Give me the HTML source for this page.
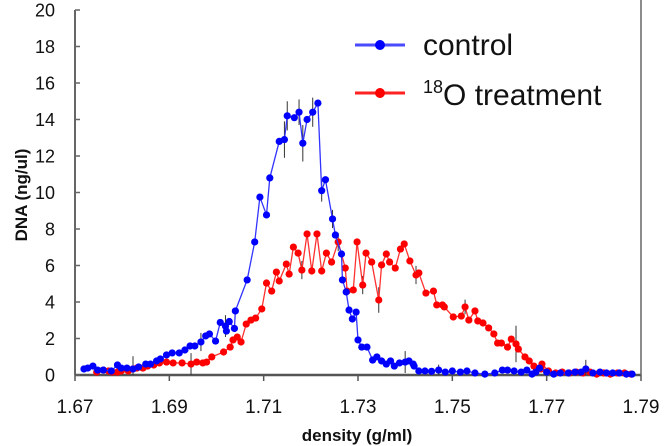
<!DOCTYPE html>
<html><head><meta charset="utf-8"><style>
body{margin:0;background:#fff;}
svg{display:block;font-family:"Liberation Sans",Arial,sans-serif;}
</style></head><body>
<svg id="chart" width="665" height="446" viewBox="0 0 665 446" xmlns="http://www.w3.org/2000/svg">
<g id="axes"></g>
<g id="series"></g>
<g>
 <g>
  <line x1="355" y1="45" x2="405" y2="45" stroke="#4a4aff" stroke-width="3"/>
  <circle cx="380" cy="45" r="5" fill="#0000ff"/>
  <text x="423" y="55" font-size="30" fill="#111">control</text>
 </g>
 <g>
  <line x1="355" y1="93" x2="405" y2="93" stroke="#ff2222" stroke-width="3"/>
  <circle cx="380" cy="93" r="5" fill="#ff0000"/>
  <text x="423" y="105" font-size="30" fill="#111"><tspan font-size="18" dy="-12">18</tspan><tspan dy="12">O treatment</tspan></text>
 </g>
</g>
<text x="357" y="441" font-size="17" font-weight="bold" text-anchor="middle" fill="#111">density (g/ml)</text>
<text transform="translate(27,195) rotate(-90)" font-size="17" font-weight="bold" text-anchor="middle" fill="#111">DNA (ng/ul)</text>
</svg>
<script>
const xTicks = [1.67,1.69,1.71,1.73,1.75,1.77,1.79];
const xTickLabels = ["1.67","1.69","1.71","1.73","1.75","1.77","1.79"];
const yTicks = [0,2,4,6,8,10,12,14,16,18,20];
const controlX = [1.6719,1.6727,1.6738,1.6748,1.6760,1.6777,1.6790,1.6798,1.6810,1.6823,1.6835,1.6850,1.6860,1.6873,1.6881,1.6894,1.6906,1.6921,1.6933,1.6944,1.6954,1.6967,1.6977,1.6985,1.6998,1.7008,1.7019,1.7021,1.7027,1.7038,1.7040,1.7065,1.7081,1.7092,1.7106,1.7113,1.7133,1.7144,1.7150,1.7165,1.7175,1.7183,1.7192,1.7204,1.7215,1.7223,1.7231,1.7246,1.7252,1.7265,1.7267,1.7275,1.7281,1.7288,1.7296,1.7300,1.7308,1.7319,1.7331,1.7340,1.7350,1.7360,1.7369,1.7377,1.7388,1.7400,1.7408,1.7417,1.7419,1.7429,1.7442,1.7456,1.7471,1.7485,1.7500,1.7517,1.7531,1.7548,1.7569,1.7590,1.7606,1.7617,1.7631,1.7646,1.7658,1.7669,1.7677,1.7685,1.7700,1.7715,1.7729,1.7746,1.7760,1.7773,1.7783,1.7798,1.7813,1.7827,1.7840,1.7854,1.7869,1.7881];
const controlY = [0.33,0.38,0.49,0.27,0.27,0.22,0.55,0.38,0.38,0.33,0.44,0.60,0.60,0.77,0.88,1.10,1.21,1.21,1.37,1.59,1.59,1.81,2.14,2.25,1.86,2.88,2.68,2.41,2.93,2.55,3.51,5.21,7.29,9.75,8.77,10.8,12.8,12.9,14.2,14.1,14.4,12.7,14.0,14.4,14.9,10.1,10.7,8.55,7.67,6.63,5.21,4.55,3.56,3.07,3.45,1.92,1.53,1.53,0.82,0.99,0.77,0.60,0.77,0.49,0.66,0.71,0.77,0.60,0.49,0.22,0.22,0.20,0.27,0.16,0.22,0.16,0.22,0.11,0.05,0.11,0.27,0.27,0.22,0.16,0.27,0.05,0.16,0.38,0.16,0.05,0.11,0.11,0.16,0.16,0.33,0.11,0.16,0.11,0.11,0.11,0.05,0.05];
const treatX = [1.6746,1.6760,1.6771,1.6779,1.6790,1.6798,1.6813,1.6823,1.6831,1.6844,1.6854,1.6867,1.6879,1.6894,1.6908,1.6927,1.6946,1.6958,1.6971,1.6979,1.6990,1.7015,1.7029,1.7035,1.7044,1.7052,1.7063,1.7073,1.7083,1.7096,1.7106,1.7117,1.7127,1.7133,1.7148,1.7154,1.7163,1.7173,1.7181,1.7192,1.7202,1.7213,1.7223,1.7233,1.7244,1.7258,1.7273,1.7277,1.7290,1.7298,1.7310,1.7317,1.7329,1.7344,1.7350,1.7360,1.7367,1.7379,1.7390,1.7398,1.7410,1.7423,1.7429,1.7444,1.7460,1.7467,1.7479,1.7483,1.7502,1.7519,1.7527,1.7535,1.7548,1.7554,1.7565,1.7577,1.7588,1.7596,1.7604,1.7617,1.7625,1.7635,1.7640,1.7654,1.7663,1.7673,1.7688,1.7690,1.7704,1.7719,1.7733,1.7748,1.7763,1.7777,1.7792,1.7806,1.7821,1.7835,1.7850,1.7865,1.7879];
const treatY = [0.16,0.27,0.22,0.16,0.16,0.22,0.22,0.33,0.38,0.38,0.49,0.55,0.66,0.71,0.66,0.66,0.60,0.71,0.66,0.71,0.99,1.26,1.53,1.92,2.08,1.81,2.79,3.01,3.12,3.62,5.04,4.60,5.64,5.15,6.08,5.53,7.01,6.68,5.75,7.73,5.70,7.73,5.70,6.68,6.19,7.29,5.86,4.60,4.66,7.29,4.93,6.68,6.19,4.11,6.03,6.63,6.19,5.86,6.90,7.18,6.25,5.48,5.59,4.49,4.60,3.84,3.84,3.73,3.18,3.23,3.73,3.01,3.51,2.96,2.85,2.58,2.25,1.75,1.75,1.53,1.97,1.70,1.42,0.99,0.77,0.49,0.33,0.60,0.22,0.11,0.16,0.11,0.16,0.11,0.16,0.05,0.11,0.05,0.11,0.11,0.05];
const controlErrIdx = [21,26,37,38,40,41,43,45,47,65,72,94];
const controlErr = [0.5,0.6,1.0,0.8,0.7,1.0,0.8,0.6,0.5,0.6,0.3,0.5];
const treatErrIdx = [7,16,38,45,50,53,61,70,81];
const treatErr = [0.7,0.6,0.5,0.5,0.5,0.7,0.5,0.4,1.0];

const X0=75,X1=641,Y0=375,Y1=10;
function xs(v){return X0+(v-1.67)/(1.79-1.67)*(X1-X0);}
function ys(v){return Y0-(v/20)*(Y0-Y1);}
const NS="http://www.w3.org/2000/svg";
function mk(tag,attrs,parent){const e=document.createElementNS(NS,tag);for(const k in attrs)e.setAttribute(k,attrs[k]);parent.appendChild(e);return e;}
const axes=document.getElementById('axes');
const series=document.getElementById('series');
let l=mk('line',{x1:X0,y1:Y1,x2:X0,y2:Y0,stroke:'#666','stroke-width':2},axes);


l=mk('line',{x1:X0,y1:Y0,x2:X1,y2:Y0,stroke:'#555','stroke-width':2.5},axes);


l=mk('line',{x1:X1,y1:0,x2:X1,y2:Y0,stroke:'#666','stroke-width':1.5},axes);


yTicks.forEach(v=>{
  const y=ys(v);
  const t=mk('line',{x1:X0,y1:y,x2:X0+5,y2:y,stroke:'#666','stroke-width':1.5},axes);
  
  
  const tx=mk('text',{x:55,y:y+6.5,'font-size':18,'text-anchor':'end',fill:'#111'},axes);
  tx.textContent=String(v);
  
  
});
xTicks.forEach((v,i)=>{
  const x=xs(v);
  const t=mk('line',{x1:x,y1:Y0,x2:x,y2:Y0+6,stroke:'#555','stroke-width':1.5},axes);
  
  
  const tx=mk('text',{x:x,y:413,'font-size':19,'text-anchor':'middle',fill:'#111'},axes);
  tx.textContent=xTickLabels[i];
  
  
});
function drawSeries(X,Y,errIdx,err,lineCol,dotCol,name){
  const g=mk('g',{},series);
  
  
  errIdx.forEach((idx,k)=>{
    const e=mk('line',{x1:xs(X[idx]),x2:xs(X[idx]),y1:ys(Y[idx]+err[k]),y2:ys(Math.max(0,Y[idx]-err[k])),stroke:'#333','stroke-width':1},g);
    
    
  });
  const p=mk('polyline',{points:X.map((x,i)=>xs(x)+','+ys(Y[i])).join(' '),fill:'none',stroke:lineCol,'stroke-width':1.3},g);
  
  
  X.forEach((x,i)=>{
    const c=mk('circle',{cx:xs(x),cy:ys(Y[i]),r:3.6,fill:dotCol},g);
    
    
  });
}
drawSeries(treatX,treatY,treatErrIdx,treatErr,'#ff3030','#ff0000','treatment');
drawSeries(controlX,controlY,controlErrIdx,controlErr,'#3333ff','#0000ff','control');
</script>
</body></html>
